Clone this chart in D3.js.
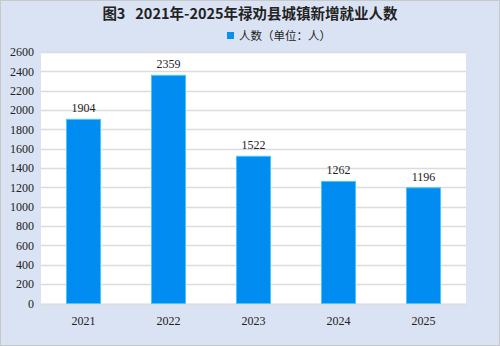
<!DOCTYPE html>
<html>
<head>
<meta charset="utf-8">
<script src="https://cdn.jsdelivr.net/npm/d3@7"></script>
<style>
  html, body { margin: 0; padding: 0; background: #dae3f3; }
  svg { display: block; }
</style>
</head>
<body>
<svg id="chart" width="500" height="346"></svg>
<script>
// Chart data
var years = ["2021", "2022", "2023", "2024", "2025"];
var people = [1904, 2359, 1522, 1262, 1196];
var yTicks = [0, 200, 400, 600, 800, 1000, 1200, 1400, 1600, 1800, 2000, 2200, 2400, 2600];
var titleText = "图3\u00a0\u00a0\u00a02021年-2025年禄劝县城镇新增就业人数";
var legendText = "人数（单位：人）";

var svg = d3.select("#chart"),
    width = +svg.attr("width"),
    height = +svg.attr("height");

var margin = { top: 52, right: 34, bottom: 42.5, left: 41 };
var plotW = width - margin.left - margin.right,
    plotH = height - margin.top - margin.bottom;

// outer frame
svg.append("rect")
    .attr("x", 0.5).attr("y", 0.5)
    .attr("width", width - 1).attr("height", height - 1)
    .attr("fill", "#dae3f3")
    .attr("stroke", "#c8c8c8");

// title
svg.append("text")
    .attr("x", width / 2).attr("y", 19)
    .attr("text-anchor", "middle")
    .attr("font-family", "'Noto Sans CJK SC', sans-serif")
    .attr("font-size", 14.5)
    .attr("font-weight", "bold")
    .attr("fill", "#222")
    .text(titleText);

// legend
var legend = svg.append("g").attr("transform", "translate(227,32)");
legend.append("rect")
    .attr("width", 7).attr("height", 7)
    .attr("fill", "#0a8ff0");
legend.append("text")
    .attr("x", 12).attr("y", 7.5)
    .attr("font-family", "'Noto Sans CJK SC', sans-serif")
    .attr("font-size", 11.5)
    .attr("fill", "#222")
    .text(legendText);

var g = svg.append("g")
    .attr("transform", "translate(" + margin.left + "," + margin.top + ")");

// plot background
g.append("rect")
    .attr("width", plotW).attr("height", plotH)
    .attr("fill", "#ffffff");

var x = d3.scaleBand().domain(years).range([0, plotW]).paddingInner(0.6).paddingOuter(0.3);
var y = d3.scaleLinear().domain([0, 2600]).range([plotH, 0]);

// gridlines
g.append("g")
    .selectAll("line")
    .data(yTicks)
    .join("line")
    .attr("x1", 0).attr("x2", plotW)
    .attr("y1", function (d) { return Math.round(y(d)) + 0.5; })
    .attr("y2", function (d) { return Math.round(y(d)) + 0.5; })
    .attr("stroke", "#dcdcdc")
    .attr("stroke-width", 1.5);

// y axis labels
var yAxis = g.append("g")
    .call(d3.axisLeft(y).tickValues(yTicks).tickFormat(d3.format("d")).tickSize(0).tickPadding(7));
yAxis.select(".domain").remove();
yAxis.selectAll("text")
    .attr("font-family", "'Liberation Serif', serif")
    .attr("font-size", 12)
    .attr("fill", "#222");

// x axis labels
var xAxis = g.append("g")
    .attr("transform", "translate(0," + plotH + ")")
    .call(d3.axisBottom(x).tickSize(0).tickPadding(13));
xAxis.select(".domain").remove();
xAxis.selectAll("text")
    .attr("font-family", "'Liberation Serif', serif")
    .attr("font-size", 12)
    .attr("fill", "#222");

// bars
g.append("g")
    .selectAll("rect")
    .data(people)
    .join("rect")
    .attr("x", function (d, i) { return x(years[i]); })
    .attr("y", function (d) { return y(d); })
    .attr("width", x.bandwidth())
    .attr("height", function (d) { return plotH - y(d); })
    .attr("fill", "#008cf0")
    .attr("stroke", "#4cc6f5")
    .attr("stroke-width", 1);

// value labels
g.append("g")
    .selectAll("text")
    .data(people)
    .join("text")
    .attr("x", function (d, i) { return x(years[i]) + x.bandwidth() / 2; })
    .attr("y", function (d) { return y(d) - 7; })
    .attr("text-anchor", "middle")
    .attr("font-family", "'Liberation Serif', serif")
    .attr("font-size", 12)
    .attr("fill", "#222")
    .text(function (d) { return d; });
</script>
</body>
</html>
